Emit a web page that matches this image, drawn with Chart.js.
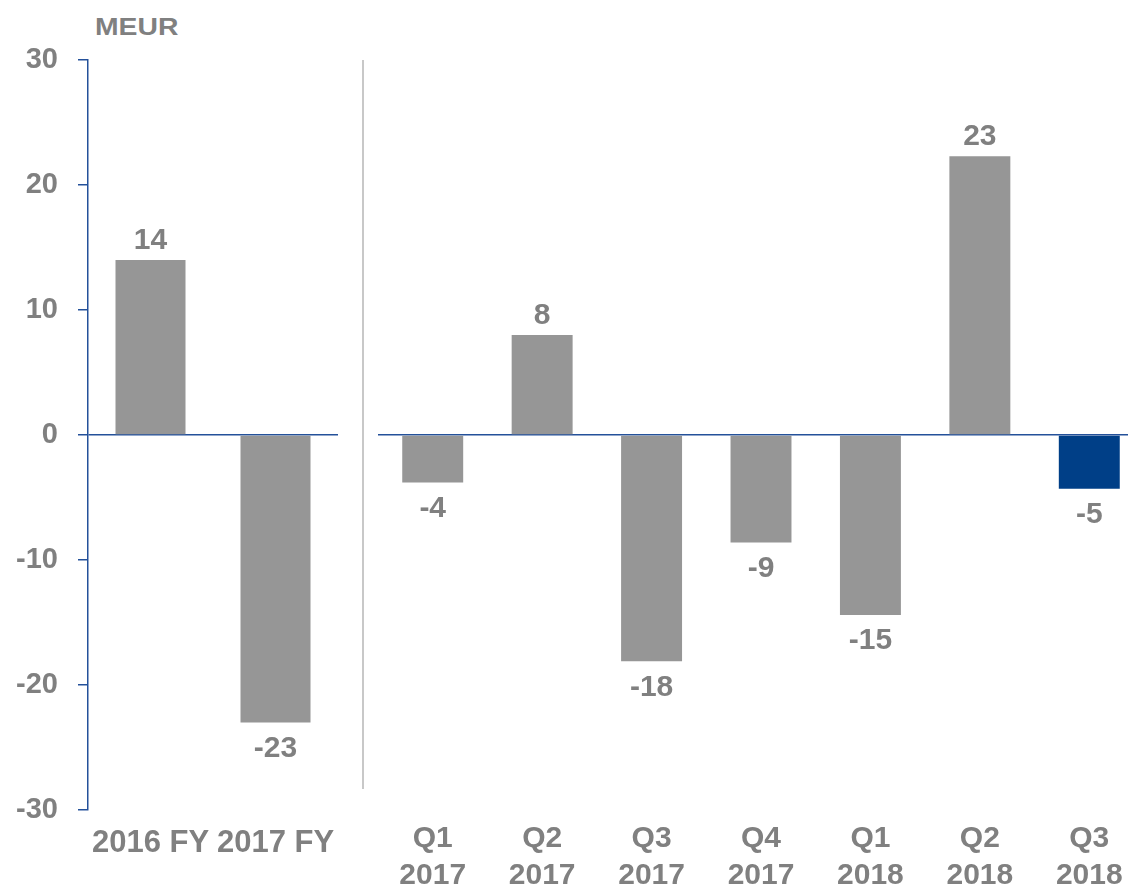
<!DOCTYPE html>
<html>
<head>
<meta charset="utf-8">
<script src="https://cdn.jsdelivr.net/npm/chart.js@4.4.1/dist/chart.umd.min.js"></script>
<style>
  html, body { margin: 0; padding: 0; background: #fff; overflow: hidden; width: 1128px; height: 885px; }
  #left { position: absolute; left: 0; top: 0; }
  #right { position: absolute; left: 378px; top: 0; }
  #sep { position: absolute; left: 362px; top: 60px; width: 2px; height: 729px; background: #c8c8c8; }
  #unit { position: absolute; left: 95px; top: 15px; font: bold 24px "Liberation Sans", Arial, sans-serif;
          line-height: 24px; color: #808080; transform: scaleX(1.18); transform-origin: left top; }
</style>
</head>
<body>
<div id="unit">MEUR</div>
<div id="sep"></div>
<canvas id="left" width="340" height="885"></canvas>
<canvas id="right" width="766" height="885"></canvas>
<script>
// Data
const yearLabels = ['2016 FY', '2017 FY'];
const yearValues = [14, -23];
const yearText = ['14', '-23'];

const quarterLabels = [['Q1', '2017'], ['Q2', '2017'], ['Q3', '2017'], ['Q4', '2017'], ['Q1', '2018'], ['Q2', '2018'], ['Q3', '2018']];
const quarterValues = [-3.8, 8, -18.1, -8.6, -14.4, 22.3, -4.3];
const quarterText = ['-4', '8', '-18', '-9', '-15', '23', '-5'];

const yTicks = [-30, -20, -10, 0, 10, 20, 30];

const GREY = '#969696';
const TEXT = '#808080';
const BLUE = '#24519a';
const DARK = '#003f87';
const FONT = '"Liberation Sans", Arial, sans-serif';

// value labels above / below each bar
const valueLabels = {
    id: 'valueLabels',
    afterDatasetsDraw(chart, args, opts) {
        const ctx = chart.ctx;
        const meta = chart.getDatasetMeta(0);
        ctx.save();
        ctx.font = 'bold 30px ' + FONT;
        ctx.fillStyle = TEXT;
        ctx.textAlign = 'center';
        meta.data.forEach((bar, i) => {
            const v = chart.data.datasets[0].data[i];
            if (v >= 0) {
                ctx.textBaseline = 'alphabetic';
                ctx.fillText(opts.text[i], bar.x, bar.y - 11);
            } else {
                ctx.textBaseline = 'top';
                ctx.fillText(opts.text[i], bar.x, bar.y + 11);
            }
        });
        ctx.restore();
    }
};

function zeroOnly(c) {
    return c.tick && c.tick.value === 0 ? BLUE : 'rgba(0,0,0,0)';
}

// keep the plot area fixed: no extra room for label overflow
function fixX(s) {
    s.height = 75;
    s.paddingLeft = 0;
    s.paddingRight = 0;
}

new Chart(document.getElementById('left'), {
    type: 'bar',
    data: {
        labels: yearLabels,
        datasets: [{
            data: yearValues,
            backgroundColor: GREY,
            borderWidth: 0,
            barPercentage: 0.56,
            categoryPercentage: 1
        }]
    },
    options: {
        responsive: false,
        animation: false,
        layout: { padding: { top: 60, right: 2, left: 0, bottom: 0 } },
        plugins: { legend: { display: false }, tooltip: { enabled: false }, valueLabels: { text: yearText } },
        scales: {
            x: {
                grid: { display: false, drawTicks: false },
                border: { display: false },
                ticks: { color: TEXT, font: { family: FONT, size: 31, weight: 'bold' }, padding: 15, maxRotation: 0, autoSkip: false },
                afterFit: fixX
            },
            y: {
                min: -30, max: 30,
                afterBuildTicks(s) { s.ticks = yTicks.map(v => ({ value: v })); },
                grid: { color: zeroOnly, lineWidth: 1.5, tickColor: BLUE, tickLength: 10, tickWidth: 1.5 },
                border: { display: true, color: BLUE, width: 1.5 },
                ticks: { color: TEXT, font: { family: FONT, size: 29, weight: 'bold' }, padding: 20 },
                afterFit(s) { s.width = 88; }
            }
        }
    },
    plugins: [valueLabels]
});

new Chart(document.getElementById('right'), {
    type: 'bar',
    data: {
        labels: quarterLabels,
        datasets: [{
            data: quarterValues,
            backgroundColor: quarterValues.map((v, i) => i === quarterValues.length - 1 ? DARK : GREY),
            borderWidth: 0,
            barPercentage: 0.557,
            categoryPercentage: 1
        }]
    },
    options: {
        responsive: false,
        animation: false,
        layout: { padding: { top: 60, right: 0, left: 0, bottom: 0 } },
        plugins: { legend: { display: false }, tooltip: { enabled: false }, valueLabels: { text: quarterText } },
        scales: {
            x: {
                grid: { display: false, drawTicks: false },
                border: { display: false },
                ticks: { color: TEXT, font: { family: FONT, size: 30, weight: 'bold', lineHeight: 1.23 }, padding: 10, maxRotation: 0, autoSkip: false },
                afterFit: fixX
            },
            y: {
                min: -30, max: 30,
                afterBuildTicks(s) { s.ticks = yTicks.map(v => ({ value: v })); },
                grid: { color: zeroOnly, lineWidth: 1.5, drawTicks: false },
                border: { display: false },
                ticks: { display: false },
                afterFit(s) { s.width = 0; }
            }
        }
    },
    plugins: [valueLabels]
});
</script>
</body>
</html>
